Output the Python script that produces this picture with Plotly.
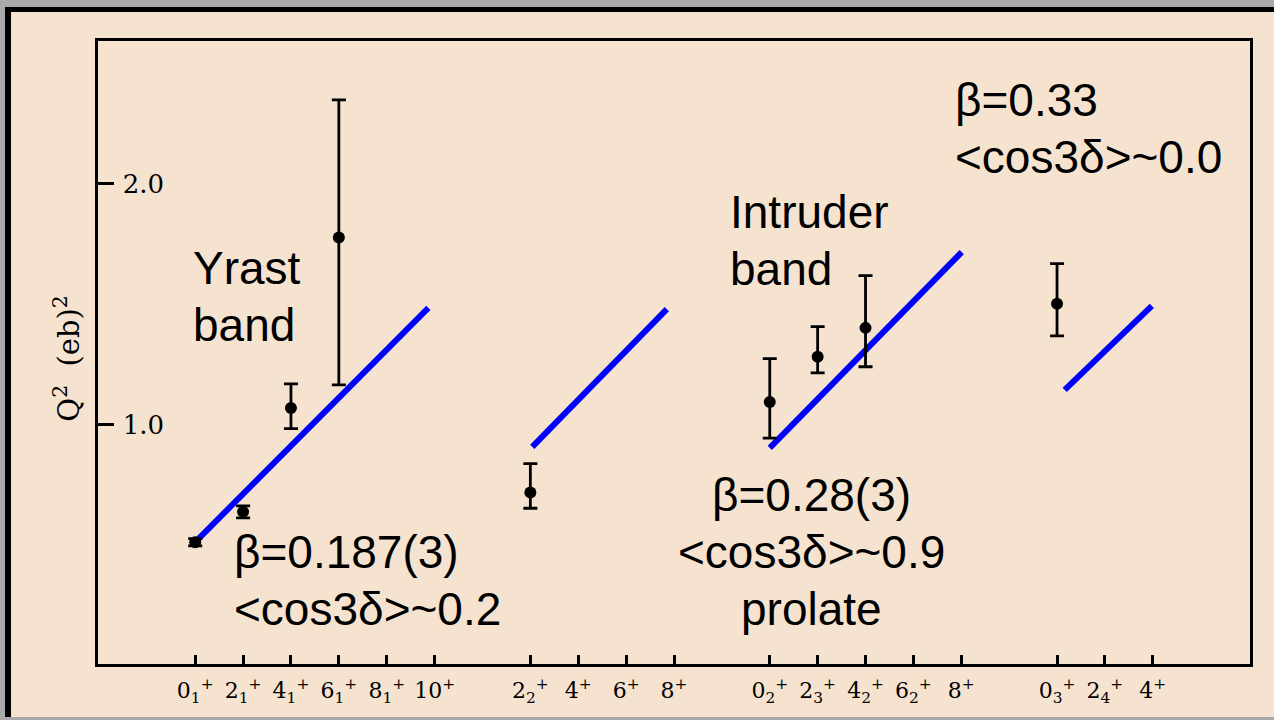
import plotly.graph_objects as go

# ---- level scheme on the x axis (slot index -> state label) ----
level_labels = [
    "0<sub>1</sub><sup>+</sup>", "2<sub>1</sub><sup>+</sup>", "4<sub>1</sub><sup>+</sup>",
    "6<sub>1</sub><sup>+</sup>", "8<sub>1</sub><sup>+</sup>", "10<sup>+</sup>",
    "2<sub>2</sub><sup>+</sup>", "4<sup>+</sup>", "6<sup>+</sup>", "8<sup>+</sup>",
    "0<sub>2</sub><sup>+</sup>", "2<sub>3</sub><sup>+</sup>", "4<sub>2</sub><sup>+</sup>",
    "6<sub>2</sub><sup>+</sup>", "8<sup>+</sup>",
    "0<sub>3</sub><sup>+</sup>", "2<sub>4</sub><sup>+</sup>", "4<sup>+</sup>",
]
level_slot = [0, 1, 2, 3, 4, 5, 7, 8, 9, 10, 12, 13, 14, 15, 16, 18, 19, 20]

# ---- measured Q^2 values (eb)^2 with asymmetric errors ----
meas_slot = [0, 1, 2, 3, 7, 12, 13, 14, 18]
meas_q2 = [0.514, 0.640, 1.070, 1.776, 0.720, 1.095, 1.282, 1.402, 1.502]
meas_err_up = [0.015, 0.025, 0.100, 0.570, 0.120, 0.180, 0.125, 0.216, 0.166]
meas_err_down = [0.015, 0.025, 0.085, 0.610, 0.065, 0.150, 0.066, 0.161, 0.133]

# ---- rigid-rotor model lines for each band (start / end) ----
model_x0 = [0.0, 7.04, 12.0, 18.16]
model_x1 = [4.87, 9.85, 16.01, 19.98]
model_y0 = [0.515, 0.909, 0.905, 1.145]
model_y1 = [1.485, 1.480, 1.716, 1.493]

# ---- band annotations ----
label_blocks = [
    (["Yrast", "band"], -0.08, 1.650, "left"),
    (["\u03b2=0.187(3)", "&lt;cos3\u03b4&gt;~0.2"], 0.76, 0.474, "left"),
    (["Intruder", "band"], 11.12, 1.882, "left"),
    (["\u03b2=0.28(3)", "&lt;cos3\u03b4&gt;~0.9", "prolate"], 12.88, 0.710, "center"),
    (["\u03b2=0.33", "&lt;cos3\u03b4&gt;~0.0"], 15.82, 2.346, "left"),
]
LINE_STEP = 0.236  # vertical spacing between text lines, in Q^2 units

BEIGE = "#f5e3d0"
GRAY = "#a9a9a9"

fig = go.Figure()

for x0, x1, y0, y1 in zip(model_x0, model_x1, model_y0, model_y1):
    fig.add_trace(go.Scatter(
        x=[x0, x1], y=[y0, y1], mode="lines",
        line=dict(color="#0000ff", width=6),
        hoverinfo="skip", showlegend=False,
    ))

fig.add_trace(go.Scatter(
    x=meas_slot, y=meas_q2, mode="markers",
    marker=dict(color="black", size=12, symbol="circle"),
    error_y=dict(type="data", symmetric=False, array=meas_err_up,
                 arrayminus=meas_err_down, color="black", thickness=2.8, width=7),
    showlegend=False,
))

annotations = []
for lines, x, y, align in label_blocks:
    for i, txt in enumerate(lines):
        annotations.append(dict(
            x=x, y=y - i * LINE_STEP, xref="x", yref="y", text=txt,
            showarrow=False, xanchor=align, yanchor="middle",
            font=dict(family="Liberation Sans, Arial, sans-serif", size=46, color="black"),
        ))

# Y-axis title drawn beside the axis
annotations.append(dict(
    x=-0.027, y=0.49, xref="paper", yref="paper",
    text="Q<sup>2</sup>  (eb)<sup>2</sup>", textangle=-90, showarrow=False,
    xanchor="center", yanchor="middle",
    font=dict(family="DejaVu Serif, serif", size=29, color="black"),
))

# outer frame: gray surround, black rule, beige page
shapes = [
    dict(type="rect", xref="paper", yref="paper", x0=-0.0807, x1=1.03,
         y0=-0.0851, y1=1.0546, fillcolor="black", line=dict(width=0), layer="below"),
    dict(type="rect", xref="paper", yref="paper", x0=-0.0755, x1=1.03,
         y0=-0.0851, y1=1.0465, fillcolor=BEIGE, line=dict(width=0), layer="below"),
]

fig.update_layout(
    width=1274, height=720,
    margin=dict(l=98, r=24, t=41, b=56),
    paper_bgcolor=GRAY, plot_bgcolor="rgba(0,0,0,0)",
    annotations=annotations, shapes=shapes,
    showlegend=False,
)

fig.update_xaxes(
    range=[-2.03, 22.03], tickmode="array", tickvals=level_slot, ticktext=level_labels,
    ticks="inside", ticklen=9, tickwidth=3, tickcolor="black",
    showline=True, mirror=True, linecolor="black", linewidth=3,
    showgrid=False, zeroline=False,
    tickfont=dict(family="DejaVu Serif, serif", size=22, color="black"),
    ticklabelstandoff=5,
)
fig.update_yaxes(
    range=[0.01, 2.59], tickmode="array", tickvals=[1.0, 2.0], ticktext=["1.0", "2.0"],
    ticks="inside", ticklen=16, tickwidth=3, tickcolor="black",
    ticklabelposition="inside", ticklabelstandoff=11,
    showline=True, mirror=True, linecolor="black", linewidth=3,
    showgrid=False, zeroline=False,
    tickfont=dict(family="DejaVu Serif, serif", size=26, color="black"),
)

fig.write_html("out.html")
